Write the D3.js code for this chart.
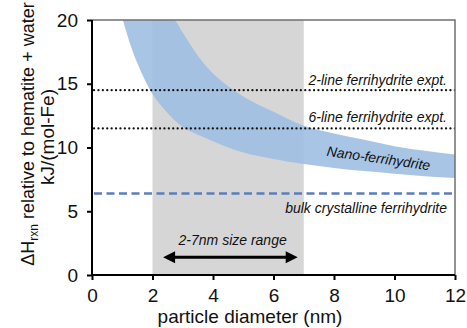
<!DOCTYPE html>
<html>
<head>
<meta charset="utf-8">
<script src="https://cdn.jsdelivr.net/npm/d3@7.9.0/dist/d3.min.js"></script>
<style>
  body { margin: 0; background: #fff; }
  svg { display: block; font-family: "Liberation Sans", Arial, sans-serif; }
</style>
</head>
<body>
<svg id="chart" width="467" height="328"></svg>
<script>
// particle diameter (nm) where the nano-ferrihydrite band is read
const bandX     = [1.02, 1.25, 1.5, 1.75, 2, 2.35, 2.7, 3, 3.5, 4, 4.5, 5, 6, 7, 8, 9, 10, 11, 12];
const bandLower = [20, 18.2, 16.6, 15.3, 14.2, 13.1, 12.2, 11.6, 11.0, 10.5, 10.0, 9.6, 9.1, 8.7, 8.4, 8.15, 7.95, 7.75, 7.6];
const bandUpper = [20, 20, 20, 20, 20, 20, 20, 19.0, 17.2, 15.8, 14.8, 14.0, 12.8, 11.7, 11.1, 10.6, 10.1, 9.75, 9.45];

const xTicks = [0, 2, 4, 6, 8, 10, 12];
const yTicks = [0, 5, 10, 15, 20];

const sizeRange = [2, 7];          // shaded size range
const arrowRange = [2.35, 6.8];    // double arrow ends
const arrowY = 1.4;

const refLines = [
  { label: '2-line ferrihydrite expt.', value: 14.5, kind: 'dot' },
  { label: '6-line ferrihydrite expt.', value: 11.5, kind: 'dot' },
  { label: 'bulk crystalline ferrihydrite', value: 6.4, kind: 'dash' },
];

const svg = d3.select('#chart');
const m = { left: 92, right: 455, top: 20, bottom: 275 };

const x = d3.scaleLinear().domain([0, 12]).range([m.left, m.right]);
const y = d3.scaleLinear().domain([0, 20]).range([m.bottom, m.top]);

svg.append('defs').append('clipPath').attr('id', 'plot')
  .append('rect')
  .attr('x', m.left).attr('y', m.top)
  .attr('width', m.right - m.left).attr('height', m.bottom - m.top);

const plot = svg.append('g').attr('clip-path', 'url(#plot)');

// grey size range
plot.append('rect')
  .attr('x', x(sizeRange[0])).attr('y', y(20))
  .attr('width', x(sizeRange[1]) - x(sizeRange[0]))
  .attr('height', y(0) - y(20))
  .attr('fill', '#d6d6d6');

// nano-ferrihydrite band
const band = bandX.map((d, i) => ({ x: d, lo: bandLower[i], hi: bandUpper[i] }));
plot.append('path')
  .datum(band)
  .attr('d', d3.area()
    .x((d) => x(d.x))
    .y0((d) => y(d.lo))
    .y1((d) => y(d.hi))
    .curve(d3.curveMonotoneX))
  .attr('fill', '#9ebfe3')
  .attr('fill-opacity', 0.9);

// reference lines
refLines.forEach((r) => {
  plot.append('line')
    .attr('x1', x(0) + 2).attr('x2', x(12))
    .attr('y1', y(r.value)).attr('y2', y(r.value))
    .attr('stroke', r.kind === 'dot' ? '#111' : '#5b7dbd')
    .attr('stroke-width', r.kind === 'dot' ? 2.2 : 2.5)
    .attr('stroke-linecap', r.kind === 'dot' ? 'round' : 'butt')
    .attr('stroke-dasharray', r.kind === 'dot' ? '0.1 4.3' : '8 4.5');
});

// frame top/right
svg.append('path')
  .attr('d', `M${m.left},${m.top}H${m.right}V${m.bottom}`)
  .attr('fill', 'none')
  .attr('stroke', '#6f6f6f')
  .attr('stroke-width', 1.5);

// axes
const xAxis = svg.append('g')
  .attr('transform', `translate(0,${m.bottom})`)
  .call(d3.axisBottom(x).tickValues(xTicks).tickSize(5).tickPadding(9));
const yAxis = svg.append('g')
  .attr('transform', `translate(${m.left},0)`)
  .call(d3.axisLeft(y).tickValues(yTicks).tickSize(5).tickPadding(9));

[xAxis, yAxis].forEach((g) => {
  g.select('.domain').attr('stroke', '#000').attr('stroke-width', 2);
  g.selectAll('.tick line').attr('stroke', '#000').attr('stroke-width', 2);
  g.selectAll('.tick text')
    .attr('fill', '#111')
    .style('font-size', '19px')
    .style('font-family', '"Liberation Sans", Arial, sans-serif');
});
xAxis.select('.domain').attr('d', `M${m.left},0H${m.right}`);
yAxis.select('.domain').attr('d', `M0,${m.bottom}V${m.top}`);

// axis titles
svg.append('text')
  .attr('x', 250).attr('y', 323)
  .attr('text-anchor', 'middle')
  .attr('font-size', 19)
  .attr('fill', '#111')
  .text('particle diameter (nm)');

const yTitle = svg.append('text')
  .attr('transform', 'translate(34,134) rotate(-90)')
  .attr('text-anchor', 'middle')
  .attr('font-size', 18)
  .attr('fill', '#111');
yTitle.append('tspan').text('ΔH');
yTitle.append('tspan').attr('font-size', 12).attr('dy', 4).text('rxn');
yTitle.append('tspan').attr('dy', -4).text(' relative to hematite + water');

svg.append('text')
  .attr('transform', 'translate(54,137) rotate(-90)')
  .attr('text-anchor', 'middle')
  .attr('font-size', 19)
  .attr('fill', '#111')
  .text('kJ/(mol-Fe)');

// annotations
const note = (txt, px, py, anchor) => svg.append('text')
  .attr('x', px).attr('y', py)
  .attr('text-anchor', anchor)
  .attr('font-size', 14)
  .attr('font-style', 'italic')
  .attr('fill', '#111')
  .text(txt);

note(refLines[0].label, x(12) - 8, y(refLines[0].value) - 5, 'end');
note(refLines[1].label, x(12) - 8, y(refLines[1].value) - 6, 'end');
note(refLines[2].label, x(12) - 8, y(refLines[2].value) + 20, 'end');
note('2-7nm size range', x(4.65), y(arrowY) - 12, 'middle');

svg.append('text')
  .attr('transform', `translate(${x(9.45)},${163}) rotate(8)`)
  .attr('text-anchor', 'middle')
  .attr('font-size', 14)
  .attr('font-style', 'italic')
  .attr('fill', '#111')
  .text('Nano-ferrihydrite');

// double arrow
const ay = y(arrowY);
const ax0 = x(arrowRange[0]);
const ax1 = x(arrowRange[1]);
svg.append('line')
  .attr('x1', ax0 + 8).attr('x2', ax1 - 8)
  .attr('y1', ay).attr('y2', ay)
  .attr('stroke', '#000').attr('stroke-width', 3);
svg.append('path')
  .attr('d', `M${ax0},${ay}l12,-6v12z M${ax1},${ay}l-12,-6v12z`)
  .attr('fill', '#000');
</script>
</body>
</html>
